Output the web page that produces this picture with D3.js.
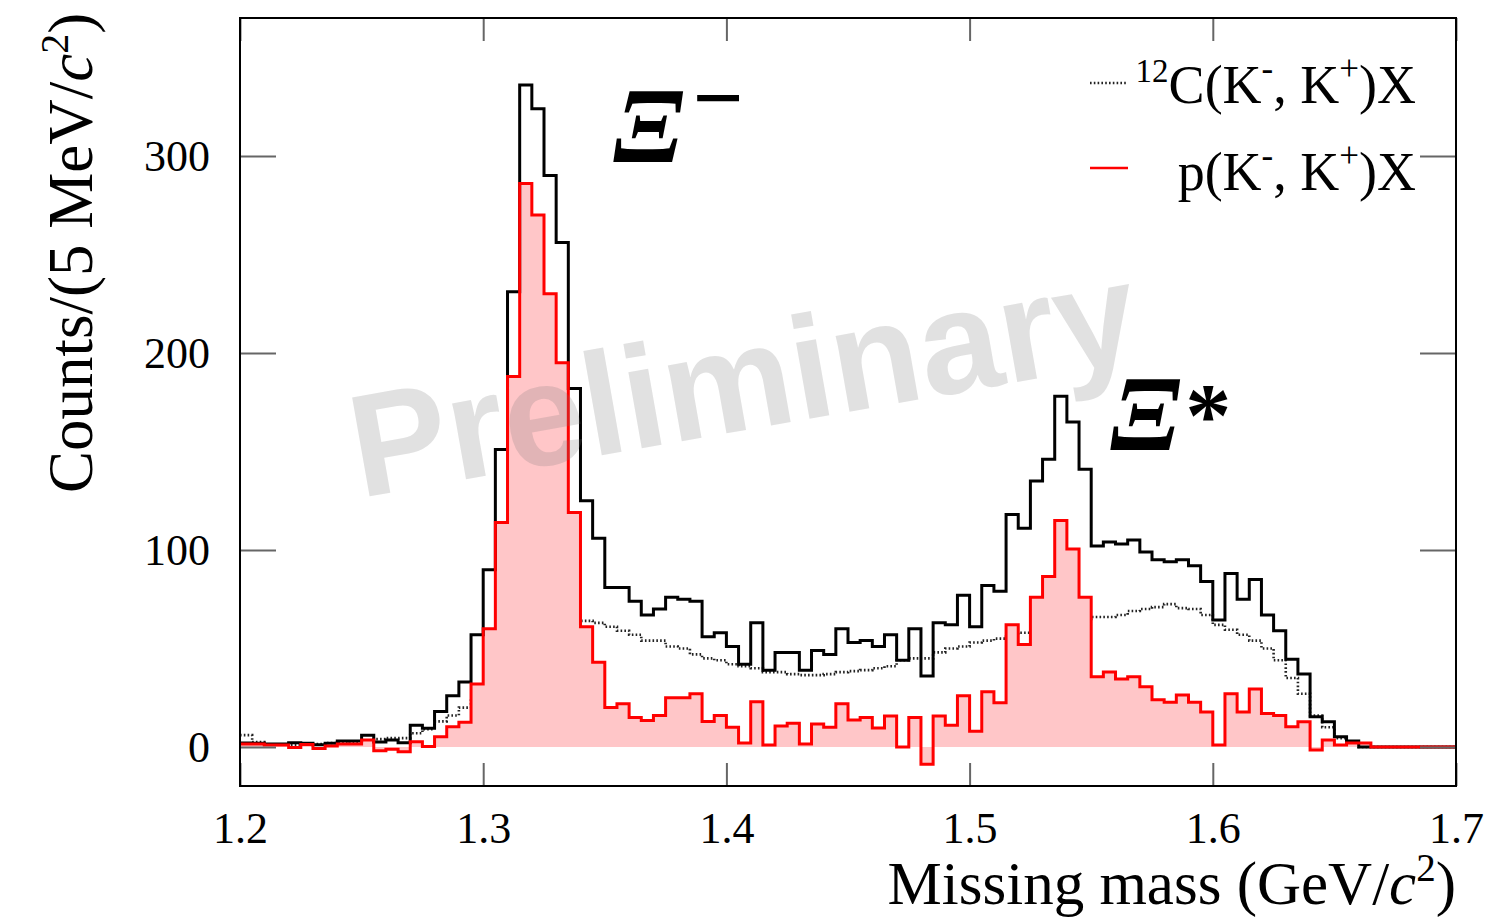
<!DOCTYPE html>
<html>
<head>
<meta charset="utf-8">
<script src="https://cdn.jsdelivr.net/npm/d3@7"></script>
<style>
  html, body { margin: 0; padding: 0; background: #fff; }
  svg { display: block; }
  text { font-family: "Liberation Serif", "Times New Roman", serif; fill: #000; }
</style>
</head>
<body>
<svg id="chart" width="1507" height="922"></svg>
<script>
// Missing-mass spectra, 5 MeV/c^2 bins starting at 1.2 GeV/c^2
const massStart = 1.2;
const binWidth = 0.005;

// CH2 target, all events (solid black)
const totalCounts = [
  2.0, 1.9, 1.5, 1.5, 2.2, 1.9, 1.2, 1.9, 3, 3,
  6, 2.5, 3.5, 2.2, 11, 9.5, 18, 26, 33, 57,
  90, 151, 231, 336, 324, 290, 256, 182, 125, 106,
  81, 81, 74, 67, 70, 76, 75, 74, 56, 58,
  51, 42, 63, 39, 48, 48, 39, 49, 47, 60,
  53, 54, 51, 57, 44, 60, 36, 63, 62, 77,
  61, 82, 79, 118, 111, 135, 146, 178, 165, 141,
  102, 104, 103, 105, 99, 95, 94, 95, 92, 84,
  64.5, 88, 75, 85, 67, 59, 44.5, 37, 15.4, 12.8,
  5.2, 3, 0, 0, 0, 0, 0, 0, 0, 0
];

// Carbon contribution, 12C(K-,K+)X (dotted black)
const carbonCounts = [
  6, 2.5, 1, 1, 1, 1.5, 1.5, 2, 2, 2.5,
  2.5, 4, 4.5, 4.5, 7, 9, 13, 16, 20, 25,
  30, 37, 43, 50, 54, 58, 61, 63, 64, 63,
  61, 59, 57, 54, 54, 51, 50, 47, 45, 44,
  42, 41, 40, 38, 38, 37, 36.5, 36.5, 37, 38,
  38.5, 39, 40, 41, 44, 45, 45, 48, 50, 51,
  53, 54, 55, 56, 58, 59, 60, 63, 64, 65,
  66, 66, 67, 69, 70, 71, 72.5, 70.5, 70, 67,
  62, 59.5, 57, 54, 50, 44, 35, 27, 16, 10,
  4.5, 2, 0, 0, 0, 0, 0, 0, 0, 0
];

// Proton contribution, p(K-,K+)X (red, filled)
const protonCounts = [
  1.5, 1.5, 1, 1, -0.3, 1.3, -0.8, 0.5, 1.5, 1.5,
  3.5, -1.9, -1.2, -2.4, 2.7, 0.2, 5.2, 10.3, 12.5, 32,
  60, 114, 188, 286, 270, 230, 195, 119, 61, 43,
  20, 22, 15, 13.5, 16, 25, 25, 27, 13, 16,
  10, 2, 23, 1, 10.7, 12, 1.5, 11.7, 10, 22,
  13.7, 15, 9.6, 15.7, 0, 15, -8.8, 15.7, 11, 26,
  8, 28, 22.5, 62, 52, 76, 86.5, 115, 100.5, 76,
  35.7, 38, 34.5, 35.7, 30.6, 24, 22.7, 26.4, 22.7, 17.8,
  1, 27, 17.8, 29.4, 17, 16, 10.3, 12.8, -1.5, 3.5,
  1, 2, 2, 0, 0, 0, 0, 0, 0, 0
];

const xTickValues = [1.2, 1.3, 1.4, 1.5, 1.6, 1.7];
const yTickValues = [0, 100, 200, 300];
const xDomain = [1.2, 1.7];
const yDomain = [-19.8, 370];

// ---------------------------------------------------------------
const svg = d3.select("#chart");
const plot = { left: 240, right: 1456, top: 18, bottom: 786 };

const x = d3.scaleLinear().domain(xDomain).range([plot.left, plot.right]);
const y = d3.scaleLinear().domain(yDomain).range([plot.bottom, plot.top]);

svg.append("defs").append("clipPath").attr("id", "plotClip")
  .append("rect")
  .attr("x", plot.left).attr("y", plot.top)
  .attr("width", plot.right - plot.left).attr("height", plot.bottom - plot.top);

// histogram contents -> step vertices (left edge of each bin + closing right edge)
function steps(values) {
  const pts = values.map((v, i) => ({ m: massStart + i * binWidth, v }));
  pts.push({ m: massStart + values.length * binWidth, v: values[values.length - 1] });
  return pts;
}

const stepLine = d3.line().curve(d3.curveStepAfter).x(d => x(d.m)).y(d => y(d.v));
const stepArea = d3.area().curve(d3.curveStepAfter).x(d => x(d.m)).y0(y(0)).y1(d => y(d.v));

const g = svg.append("g").attr("clip-path", "url(#plotClip)");

// carbon (dotted) sits underneath the proton fill
g.append("path")
  .attr("d", stepLine(steps(carbonCounts)))
  .attr("fill", "none").attr("stroke", "#222").attr("stroke-width", 2.6)
  .attr("stroke-dasharray", "1.6,2.2");

g.append("path")
  .attr("d", stepArea(steps(protonCounts)))
  .attr("fill", "#ffc6c8").attr("stroke", "none");

g.append("path")
  .attr("d", stepLine(steps(totalCounts)))
  .attr("fill", "none").attr("stroke", "#000").attr("stroke-width", 3);

g.append("path")
  .attr("d", stepLine(steps(protonCounts)))
  .attr("fill", "none").attr("stroke", "#ff0000").attr("stroke-width", 3);

// watermark
svg.append("text")
  .attr("transform", "translate(360,498) rotate(-10)")
  .style("font-family", "'Liberation Sans', Arial, sans-serif")
  .style("font-weight", "bold")
  .style("font-size", "146px")
  .style("fill", "rgba(120,120,120,0.22)")
  .text("Preliminary");

// axes: inward ticks on all four sides
const tickStroke = "#666";
const xTickLen = 23, yTickLen = 36;

const axB = svg.append("g").attr("transform", `translate(0,${plot.bottom})`)
  .call(d3.axisBottom(x).tickValues(xTickValues).tickSizeInner(-xTickLen).tickSizeOuter(0).tickPadding(30)
    .tickFormat(d3.format(".1f")));
const axT = svg.append("g").attr("transform", `translate(0,${plot.top})`)
  .call(d3.axisTop(x).tickValues(xTickValues).tickSizeInner(-xTickLen).tickSizeOuter(0).tickFormat(""));
const axL = svg.append("g").attr("transform", `translate(${plot.left},0)`)
  .call(d3.axisLeft(y).tickValues(yTickValues).tickSizeInner(-yTickLen).tickSizeOuter(0).tickPadding(30)
    .tickFormat(d3.format("d")));
const axR = svg.append("g").attr("transform", `translate(${plot.right},0)`)
  .call(d3.axisRight(y).tickValues(yTickValues).tickSizeInner(-yTickLen).tickSizeOuter(0).tickFormat(""));

[axB, axT, axL, axR].forEach(a => {
  a.select(".domain").remove();
  a.selectAll(".tick line").attr("stroke", tickStroke).attr("stroke-width", 2);
  a.selectAll(".tick text")
    .style("font-family", "'Liberation Serif', 'Times New Roman', serif")
    .style("font-size", "44px").attr("fill", "#000");
});
axB.selectAll(".tick text").attr("dy", 0).attr("y", 843 - plot.bottom);

// frame
svg.append("rect")
  .attr("x", plot.left).attr("y", plot.top)
  .attr("width", plot.right - plot.left).attr("height", plot.bottom - plot.top)
  .attr("fill", "none").attr("stroke", "#000").attr("stroke-width", 2);

// axis titles
const yTitle = svg.append("text")
  .attr("transform", "translate(92,493) rotate(-90)")
  .style("font-size", "63px");
yTitle.append("tspan").text("Counts/(5 MeV/");
yTitle.append("tspan").style("font-style", "italic").text("c");
yTitle.append("tspan").attr("dy", -24).style("font-size", "40px").text("2");
yTitle.append("tspan").attr("dy", 24).text(")");

const xTitle = svg.append("text")
  .attr("x", 1456).attr("y", 904).attr("text-anchor", "end")
  .style("font-size", "61px");
xTitle.append("tspan").text("Missing mass (GeV/");
xTitle.append("tspan").style("font-style", "italic").text("c");
xTitle.append("tspan").attr("dy", -23).style("font-size", "39px").text("2");
xTitle.append("tspan").attr("dy", 23).text(")");

// legend
const legend = [
  { dash: "1.6,2.2", color: "#222", ly: 83, ty: 103, pre: "12", name: "C" },
  { dash: null, color: "#ff0000", ly: 168, ty: 190, pre: null, name: "p" }
];
legend.forEach(e => {
  svg.append("line")
    .attr("x1", 1090).attr("x2", 1128).attr("y1", e.ly).attr("y2", e.ly)
    .attr("stroke", e.color).attr("stroke-width", e.dash ? 2.6 : 2.4)
    .attr("stroke-dasharray", e.dash);
  const t = svg.append("text").attr("x", 1416).attr("y", e.ty)
    .attr("text-anchor", "end").style("font-size", "54px");
  let shift = 0;
  if (e.pre) {
    t.append("tspan").attr("dy", -21).style("font-size", "33px").text(e.pre);
    shift = 21;
  }
  t.append("tspan").attr("dy", shift).text(e.name + "(K");
  t.append("tspan").attr("dy", -23).style("font-size", "35px").text("-");
  t.append("tspan").attr("dy", 23).text(", K");
  t.append("tspan").attr("dy", -23).style("font-size", "35px").text("+");
  t.append("tspan").attr("dy", 23).text(")X");
});

// resonance labels
const xiMinus = svg.append("text").attr("x", 613).attr("y", 162)
  .style("font-size", "108px").style("font-weight", "bold").style("font-style", "italic");
xiMinus.append("tspan").text("Ξ");
xiMinus.append("tspan").attr("dy", -34).attr("dx", 8).style("font-size", "90px").style("font-style", "normal").text("−");

const xiStar = svg.append("text").attr("x", 1110).attr("y", 450)
  .style("font-size", "108px").style("font-weight", "bold").style("font-style", "italic");
xiStar.append("tspan").text("Ξ");
xiStar.append("tspan").attr("dy", -4).attr("dx", 4).style("font-size", "92px").style("font-style", "normal").text("*");
</script>
</body>
</html>
